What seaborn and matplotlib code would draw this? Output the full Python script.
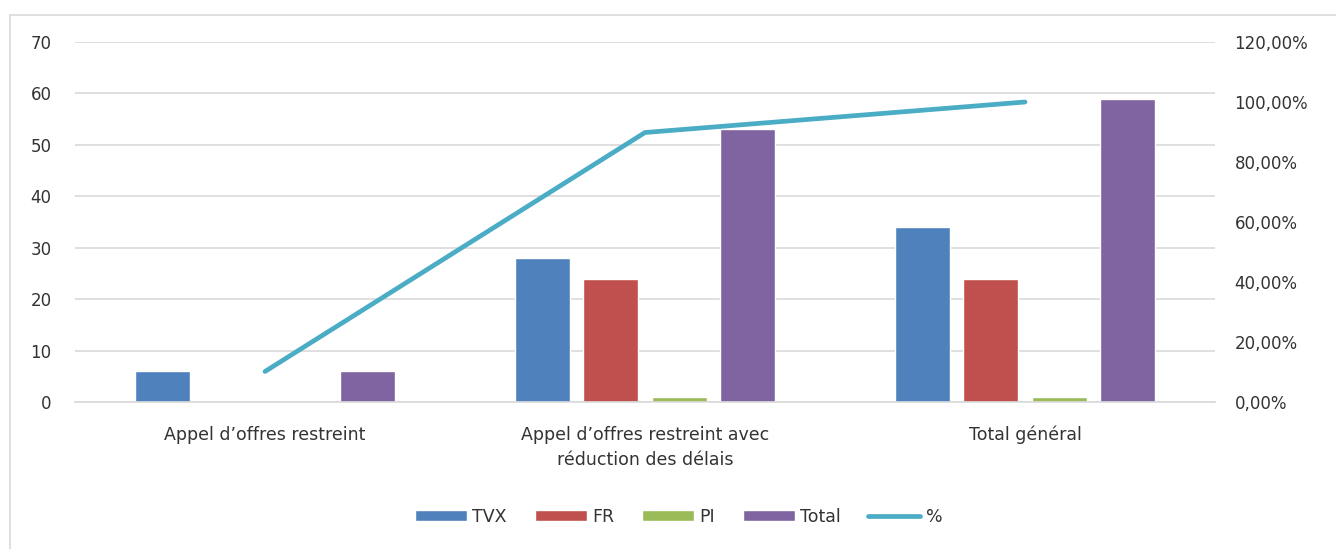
import matplotlib
matplotlib.use("Agg")
import matplotlib.pyplot as plt
import seaborn as sns
import pandas as pd
from matplotlib.patches import Rectangle, Patch
from matplotlib.lines import Line2D
from matplotlib.ticker import FuncFormatter, MultipleLocator

categories = ["Appel d’offres restreint",
              "Appel d’offres restreint avec\nréduction des délais",
              "Total général"]
series = ["TVX", "FR", "PI", "Total"]
tvx = [6, 28, 34]
fr = [0, 24, 24]
pi = [0, 1, 1]
total = [6, 53, 59]
pct = [10.17, 89.83, 100.0]

colors = {"TVX": "#4F81BD", "FR": "#C0504D", "PI": "#9BBB59", "Total": "#8064A2"}
line_color = "#4BACC6"
text_color = "#333333"

sns.set_theme(style="white")
plt.rcParams['font.family'] = ['DejaVu Sans']

rows = []
for s, vals in zip(series, [tvx, fr, pi, total]):
    for c, v in zip(categories, vals):
        rows.append({"cat": c, "series": s, "value": v})
df = pd.DataFrame(rows)

fig = plt.figure(figsize=(13.36, 5.49), dpi=100)
ax = fig.add_axes([75/1336, 1-402/549, 1140/1336, 360/549])

sns.barplot(data=df, x="cat", y="value", hue="series", order=categories,
            hue_order=series, palette=colors, width=0.72, gap=0.2,
            ax=ax, legend=False, saturation=1, errorbar=None)

ax.set_xlim(-0.5, 2.5)
ax.set_ylim(0, 70)
ax.yaxis.set_major_locator(MultipleLocator(10))
ax.grid(axis="y", color="#D9D9D9", linewidth=1.2)
ax.set_axisbelow(True)
for sp in ["left", "right", "top"]:
    ax.spines[sp].set_visible(False)
ax.spines["bottom"].set_color("#D9D9D9")
ax.spines["bottom"].set_linewidth(1.2)
ax.set_xlabel("")
ax.set_ylabel("")
ax.tick_params(axis="both", length=0, labelsize=12, colors=text_color)
ax.tick_params(axis="x", pad=17, labelsize=12.5)
ax.tick_params(axis="y", pad=17)
for lab in ax.get_xticklabels():
    lab.set_linespacing(1.55)

ax2 = ax.twinx()
sns.lineplot(x=[0, 1, 2], y=pct, ax=ax2, color=line_color, linewidth=3.4,
             solid_capstyle="round")
ax2.set_ylim(0, 120)
ax2.yaxis.set_major_locator(MultipleLocator(20))
ax2.yaxis.set_major_formatter(FuncFormatter(lambda v, p: f"{v:.2f}%".replace(".", ",")))
for sp in ["left", "right", "top", "bottom"]:
    ax2.spines[sp].set_visible(False)
ax2.tick_params(axis="y", length=0, labelsize=12, colors=text_color, pad=14)
ax2.grid(False)
ax2.set_ylabel("")

handles = [Patch(facecolor=colors[s], label=s) for s in series]
handles.append(Line2D([0], [0], color=line_color, linewidth=3.4, label="%"))
leg = fig.legend(handles=handles, loc="center", bbox_to_anchor=(0.508, 1-517/549),
                 ncol=5, frameon=False, fontsize=12.5, handlelength=3.0,
                 handleheight=0.6, columnspacing=1.6, handletextpad=0.3)
for t in leg.get_texts():
    t.set_color(text_color)

fig.patches.append(Rectangle((10/1336, -0.01), 1.0, 1-15/549 + 0.01,
                             transform=fig.transFigure, fill=False,
                             edgecolor="#D9D9D9", linewidth=1.2))

fig.savefig("out.png", dpi=100)
